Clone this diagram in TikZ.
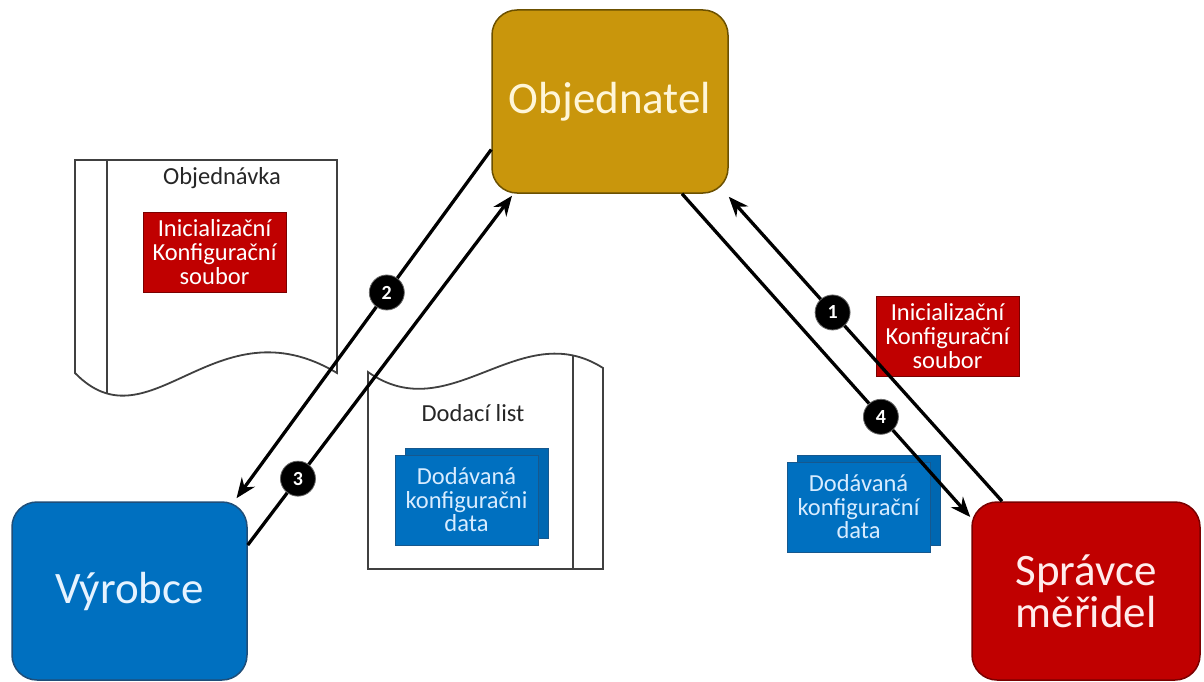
\documentclass[tikz,border=0pt]{standalone}
\usepackage{fontspec}
\setmainfont{Carlito}
\usetikzlibrary{arrows.meta,calc}
\definecolor{goldfill}{HTML}{C9960C}
\definecolor{golddraw}{HTML}{6B5000}
\definecolor{bluefill}{HTML}{0070C0}
\definecolor{bluedraw}{HTML}{1F4E79}
\definecolor{redfill}{HTML}{C00000}
\definecolor{reddraw}{HTML}{7A0000}
\definecolor{docline}{HTML}{404040}
\definecolor{txtgold}{HTML}{FFF6D8}
\definecolor{txtblue}{HTML}{E6F3FF}
\definecolor{txtred}{HTML}{FFECEC}
\definecolor{txtlblue}{HTML}{D8ECFF}
\begin{document}
\begin{tikzpicture}[x=1pt,y=-1pt,
  mainbox/.style={rounded corners=25pt, line width=1.5pt, inner sep=0pt, align=center,
    font=\fontsize{45}{42}\selectfont},
  docpath/.style={draw=docline, fill=white, line width=1.8pt},
  redtag/.style={fill=redfill, draw=reddraw, line width=0.8pt, minimum width=143pt, minimum height=80pt,
    inner sep=0pt, align=center, text=white, font=\fontsize{24.5}{24}\selectfont},
  bluetag/.style={fill=bluefill, draw=bluedraw!70!bluefill, line width=0.8pt, minimum width=143pt, minimum height=90pt,
    inner sep=0pt, align=center, text=txtlblue, font=\fontsize{24.5}{23.5}\selectfont},
  bluetagback/.style={fill=bluefill!92!black, draw=bluedraw!70!bluefill, line width=0.8pt, minimum width=143pt, minimum height=90pt, inner sep=0pt},
  doctitle/.style={text=black!85, font=\fontsize{24.5}{24}\selectfont, inner sep=0pt},
  conn/.style={draw=black, line width=3.3pt, -{Stealth[length=20pt,width=16pt]}},
  badge/.style={circle, fill=black, draw=black!60, line width=0.8pt, text=white, minimum size=35pt, inner sep=0pt,
    font=\bfseries\fontsize{20}{20}\selectfont}
]
\useasboundingbox (0,0) rectangle (1204,682);
\fill[white] (0,0) rectangle (1204,682);

% documents
\draw[docpath] (75,160) -- (337,160) -- (337,373) .. controls (215,300) and (150,450) .. (75,373) -- cycle;
\draw[docline, line width=1.8pt] (107,160) -- (107,393);
\node[doctitle] (objtitle) at (222,178) {Objednávka};
\node[redtag] (redleft) at (214.5,252.5) {Inicializační\\Konfigurační\\soubor};

\draw[docpath] (368,372) .. controls (450,430) and (520,315) .. (603,368) -- (603,569) -- (368,569) -- cycle;
\draw[docline, line width=1.8pt] (573,356) -- (573,569);
\node[doctitle] (dltitle) at (473,413) {Dodací list};
\node[bluetagback] (blueleftback) at (476.5,493) {};
\node[bluetag] (blueleft) at (466.5,500) {Dodávaná\\konfiguračni\\data};

% right tags
\node[redtag] (redright) at (947.5,336) {Inicializační\\Konfigurační\\soubor};
\node[bluetagback] (bluerightback) at (868.5,500) {};
\node[bluetag] (blueright) at (858.5,507) {Dodávaná\\konfigurační\\data};

% main boxes
\node[mainbox, fill=goldfill, draw=golddraw, text=txtgold, minimum width=236pt, minimum height=183pt] (obj) at (610,101.5) {Objednatel};
\node[mainbox, fill=bluefill, draw=bluedraw, text=txtblue, minimum width=235pt, minimum height=178pt] (vyr) at (129.5,591) {Výrobce};
\node[mainbox, fill=redfill, draw=reddraw, text=txtred, minimum width=228pt, minimum height=178pt] (spr) at (1086,591) {Správce\\měřidel};

% connectors
\coordinate (a2s) at ([yshift=-48pt]obj.west);
\coordinate (a2e) at ([xshift=107pt,yshift=3pt]vyr.north);
\coordinate (a3s) at ([yshift=46pt]vyr.east);
\coordinate (a3e) at ([xshift=-98pt,yshift=-2pt]obj.south);
\coordinate (a4s) at ([xshift=72pt]obj.south);
\coordinate (a4e) at ([yshift=74pt,xshift=-1pt]spr.west);
\coordinate (a1s) at ([xshift=-84pt]spr.north);
\coordinate (a1e) at ([yshift=-3pt]obj.south east);

\draw[conn] (a2s) -- node[badge, pos=0.41] (b2) {2} (a2e);
\draw[conn] (a3s) -- node[badge, pos=0.19] (b3) {3} (a3e);
\draw[conn] (a4s) -- node[badge, pos=0.69] (b4) {4} (a4e);
\draw[conn] (a1s) -- node[badge, pos=0.62] (b1) {1} (a1e);
\end{tikzpicture}
\end{document}
